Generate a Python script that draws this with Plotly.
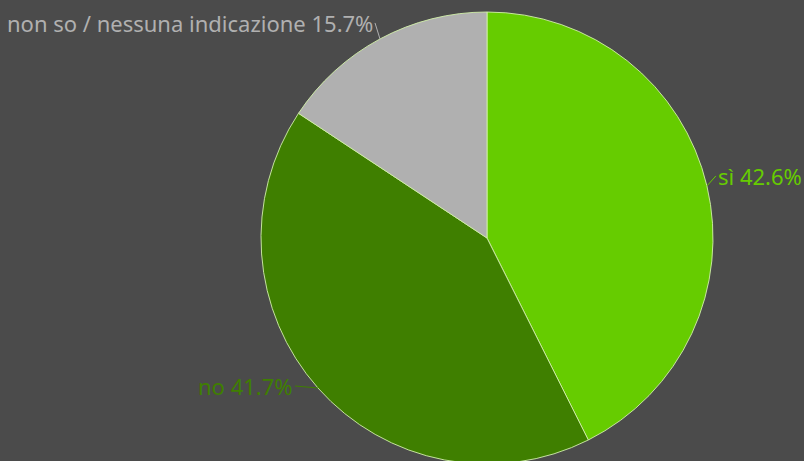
import math
import plotly.graph_objects as go

labels = ["sì", "no", "non so / nessuna indicazione"]
values = [42.6, 41.7, 15.7]
colors = ["#66cc00", "#3f7f00", "#b0b0b0"]

# layout constants (pixels)
W = 804
CX, CY, R = 487, 238, 226
MT = CY - R
H = CY + R
label_offsets = [(9, -10), (-23, -2), (-5, -16)]

fig = go.Figure(go.Pie(
    labels=labels,
    values=values,
    sort=False,
    direction="clockwise",
    rotation=0,
    marker=dict(colors=colors, line=dict(color="rgba(210,240,170,0.9)", width=1)),
    textinfo="none",
    hoverinfo="label+percent",
    showlegend=False,
    domain=dict(x=[(CX - R) / W, (CX + R) / W], y=[0, 1]),
))

total = sum(values)
cum = 0.0
annotations = []
for lab, val, col, (ox, oy) in zip(labels, values, colors, label_offsets):
    mid = (cum + val / 2) / total * 2 * math.pi
    cum += val
    px = CX + R * math.sin(mid)
    py = CY - R * math.cos(mid)
    right = math.sin(mid) >= 0
    annotations.append(dict(
        x=px / W, y=1 - (py - MT) / (H - MT),
        xref="paper", yref="paper",
        text=f"{lab} {val / total * 100:.1f}%",
        showarrow=True, arrowhead=0, arrowwidth=1, arrowcolor=col,
        standoff=0, startstandoff=0,
        ax=ox, ay=oy,
        xanchor="left" if right else "right", yanchor="middle",
        font=dict(color=col, size=22, family="Noto Sans"),
    ))

fig.update_layout(
    width=W, height=H,
    paper_bgcolor="#4b4b4b",
    plot_bgcolor="#4b4b4b",
    margin=dict(l=0, r=0, t=MT, b=0),
    font=dict(family="Noto Sans", size=22),
    annotations=annotations,
)

fig.write_html(
    "out.html",
    config={"displayModeBar": False},
    post_script="document.body.style.margin='0';document.body.style.overflow='hidden';document.body.style.background='#4b4b4b';",
)
